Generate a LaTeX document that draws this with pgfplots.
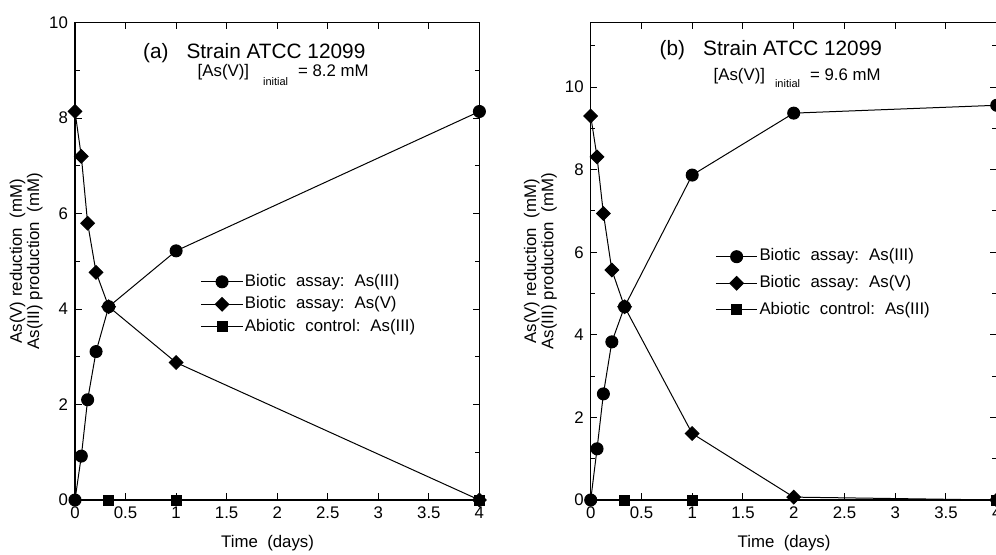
\documentclass[border=0pt]{standalone}
\usepackage{pgfplots}
\pgfplotsset{compat=1.18}
\usepackage{fontspec}
\setmainfont{Liberation Sans}

\newcommand{\lbl}{\fontsize{8.4}{8.6}\selectfont}
\newcommand{\ttl}{\fontsize{10.4}{12}\selectfont}
\newcommand{\gap}{\hspace{5pt}}

\pgfplotsset{
  panel/.style={
    scale only axis, height=238.65pt,
    xmin=0, xmax=4, ymin=0,
    xtick={0,0.5,...,4}, xticklabels={0,0.5,1,1.5,2,2.5,3,3.5,4},
    tick align=inside, major tick length=3.3pt, minor tick length=2.3pt,
    axis line style={line width=0.6pt},
    every tick/.style={black, line width=0.5pt},
    tick label style={font=\lbl},
    /pgf/number format/assume math mode=true,
    xlabel={Time\ \ (days)},
    xlabel style={at={(axis description cs:0.5,0)}, anchor=center, yshift=-21.7pt, xshift=-4.8pt, font=\lbl},
    ylabel={As(V)\ reduction\ \ (mM)\\As(III)\ production\ \ (mM)},
    ylabel style={align=center, anchor=center, font=\lbl},
    clip=false,
    legend cell align=left,
    legend image code/.code={\draw[mark repeat=2,mark phase=2] plot coordinates {(0pt,0pt)(10.4pt,0pt)(20.8pt,0pt)};},
    legend style={draw=none, fill=none, anchor=west, font=\lbl, inner sep=0pt,
      nodes={inner sep=0.8pt, text height=6pt, text depth=1.8pt}},
    every axis plot/.style={black, line width=0.5pt},
  },
  circ/.style={mark=*, mark size=3pt},
  diam/.style={mark=square*, mark size=2.4pt, mark options={rotate=45}},
  sq/.style={mark=square*, mark size=2.5pt},
}

\begin{document}
\begin{tikzpicture}
% panel (a)
\begin{axis}[panel, at={(37.5pt,27pt)}, anchor=south west, width=202.2pt,
    ymax=10, ytick={0,2,...,10}, yticklabels={0,2,4,6,8,10}, minor ytick={1,3,...,9},
    ylabel style={at={(axis description cs:-0.121,0.5)}},
    legend style={at={(axis description cs:0.31,0.41)}, row sep=1.85pt}]
\addplot[circ] coordinates {(0,0)(0.0625,0.92)(0.125,2.1)(0.2083,3.11)(0.3333,4.05)(1,5.22)(4,8.14)};
\addlegendentry{Biotic\gap assay:\gap As(III)}
\addplot[diam] coordinates {(0,8.14)(0.0625,7.2)(0.125,5.8)(0.2083,4.77)(0.3333,4.05)(1,2.88)(4,0)};
\addlegendentry{Biotic\gap assay:\gap As(V)}
\addplot[sq] coordinates {(0.3333,0)(1,0)(4,0)};
\addlegendentry{Abiotic\gap control:\gap As(III)}
\node[anchor=base west, inner sep=0pt, font=\ttl] at (axis cs:0.67,9.25) {(a)\hspace{9pt}Strain ATCC 12099};
\node[anchor=base west, inner sep=0pt, font=\lbl] at (axis cs:1.21,8.87)
  {[As(V)]\hspace{7pt}\raisebox{-4.5pt}{\fontsize{5.5}{6}\selectfont initial}\hspace{5pt}= 8.2 mM};
\end{axis}
% panel (b)
\begin{axis}[panel, at={(295.35pt,27pt)}, anchor=south west, width=203pt,
    ymax=11.56, ytick={0,2,...,10}, yticklabels={0,2,4,6,8,10}, minor ytick={1,3,...,11},
    ylabel style={at={(axis description cs:-0.124,0.5)}},
    legend style={at={(axis description cs:0.306,0.454)}, row sep=3.9pt}]
\addplot[circ] coordinates {(0,0)(0.0625,1.24)(0.125,2.57)(0.2083,3.83)(0.3333,4.68)(1,7.87)(2,9.37)(4,9.56)};
\addlegendentry{Biotic\gap assay:\gap As(III)}
\addplot[diam] coordinates {(0,9.3)(0.0625,8.31)(0.125,6.94)(0.2083,5.57)(0.3333,4.68)(1,1.61)(2,0.07)(4,0)};
\addlegendentry{Biotic\gap assay:\gap As(V)}
\addplot[sq] coordinates {(0.3333,0)(1,0)(4,0)};
\addlegendentry{Abiotic\gap control:\gap As(III)}
\node[anchor=base west, inner sep=0pt, font=\ttl] at (axis cs:0.676,10.76) {(b)\hspace{9pt}Strain ATCC 12099};
\node[anchor=base west, inner sep=0pt, font=\lbl] at (axis cs:1.208,10.17)
  {[As(V)]\hspace{5pt}\raisebox{-3.5pt}{\fontsize{5.5}{6}\selectfont initial}\hspace{5pt}= 9.6 mM};
\end{axis}
\pgfresetboundingbox
\useasboundingbox (0,0) rectangle (498pt,277pt);
\end{tikzpicture}
\end{document}
